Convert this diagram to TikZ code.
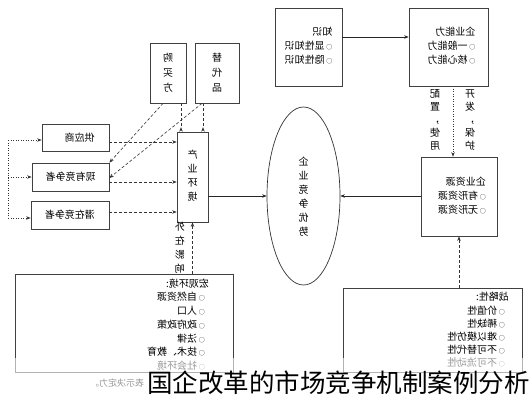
\documentclass[tikz,border=0pt]{standalone}
\usepackage{fontspec}
\setmainfont{Noto Sans CJK SC}
\usepackage{graphicx}
\usetikzlibrary{shapes.geometric,arrows.meta}
\newcommand{\mirtext}[1]{\reflectbox{#1}}
\newcommand{\vlines}[1]{\begin{tabular}{@{}c@{}}#1\end{tabular}}
\newcommand{\hlines}[1]{\begin{tabular}{@{}l@{}}#1\end{tabular}}
\newcommand{\bul}{{\fontsize{6}{6}\selectfont ○}\,}
\begin{document}
\begin{tikzpicture}[x=1pt,y=-1pt,
  box/.style={draw=black!75, line width=0.7pt, inner sep=0pt, align=center, font=\fontsize{10}{14}\selectfont},
  txt/.style={inner sep=0pt, font=\fontsize{10}{14}\selectfont},
  tip/.style={-{Stealth[length=4.5pt,width=3.5pt]}},
  rtip/.style={-{Stealth[length=4.5pt,width=3.5pt,reversed]}},
  dsh/.style={dash pattern=on 3pt off 2pt, line width=0.6pt, draw=black!80},
  dot/.style={dash pattern=on 1pt off 1.5pt, line width=0.8pt, draw=black!80},
  sol/.style={line width=0.6pt, draw=black!85}]
\useasboundingbox (0,0) rectangle (531,400);

% boxes
\node[box, minimum width=36pt, minimum height=60pt, font=\fontsize{10}{15}\selectfont] (buyer) at (168,73) {\mirtext{\vlines{购\\买\\方}}};
\node[box, minimum width=44pt, minimum height=60pt, font=\fontsize{10}{15}\selectfont] (sub) at (217,73) {\mirtext{\vlines{替\\代\\品}}};
\node[box, minimum width=67pt, minimum height=27pt] (sup) at (75.5,137.5) {\hspace{8pt}\mirtext{供应商}};
\node[box, minimum width=77pt, minimum height=28pt] (cur) at (70.5,177) {\mirtext{现有竞争者}};
\node[box, minimum width=78pt, minimum height=28pt] (pot) at (70,215) {\mirtext{潜在竞争者}};
\node[box, minimum width=31pt, minimum height=90pt] (ind) at (192.5,177) {\mirtext{\vlines{产\\业\\环\\境}}};
\node[draw=black!80, line width=0.7pt, ellipse, minimum width=73pt, minimum height=178pt, inner sep=0pt] (ell) at (303.5,196) {};
\node[txt] (elltext) at (303.5,198) {\mirtext{\vlines{企\\业\\竞\\争\\优\\势}}};
\node[box, minimum width=67pt, minimum height=78pt] (know) at (308.5,47) {\mirtext{\hlines{知识\\\bul 显性知识\\\bul 隐性知识}}};
\node[box, minimum width=79pt, minimum height=78pt] (abil) at (448.5,47) {\hspace{6pt}\mirtext{\hlines{企业能力\\\bul 一般能力\\\bul 核心能力}}};
\node[box, minimum width=76pt, minimum height=79pt] (res) at (459,196.5) {\hspace{6pt}\mirtext{\hlines{企业资源\\\bul 有形资源\\\bul 无形资源}}};
\node[box, minimum width=179pt, minimum height=84pt] (strat) at (432.5,330) {};
\node[box, minimum width=218pt, minimum height=98pt] (macro) at (124,323) {};

\node[txt, anchor=north east, font=\fontsize{10}{13.2}\selectfont] (strattext) at (509,291.5)
  {\mirtext{\hlines{战略性:\\\hspace{4pt}\bul 价值性\\\hspace{4pt}\bul 稀缺性\\\hspace{4pt}\bul 难以模仿性\\\hspace{4pt}\bul 不可替代性\\\hspace{4pt}\bul 不可流动性}}};
\node[txt, anchor=north east, font=\fontsize{10}{13.7}\selectfont] (macrotext) at (209,277.5)
  {\mirtext{\hlines{宏观环境:\\\hspace{4pt}\bul 自然资源\\\hspace{4pt}\bul 人口\\\hspace{4pt}\bul 政府政策\\\hspace{4pt}\bul 法律\\\hspace{4pt}\bul 技术、教育\\\hspace{4pt}\bul 社会环境}}};

% labels
\node[txt, font=\fontsize{10}{13}\selectfont] (lbl1) at (435,121) {\mirtext{\vlines{配\\置\\，\\使\\用}}};
\node[txt, font=\fontsize{10}{13}\selectfont] (lbl2) at (470,121) {\mirtext{\vlines{开\\发\\，\\保\\护}}};
\node[txt] (lbl3) at (180,249) {\mirtext{\vlines{外\\在\\影\\响}}};

% left dotted feed
\coordinate (dtop) at (8,140);
\coordinate (dbot) at (8,218);
\draw[dot] (dtop) -- (dbot);
\draw[dot, tip] (dtop) -- (dtop -| sup.west);
\draw[dot, tip] (8,177) coordinate (dmid) -- (dmid -| cur.west);
\draw[dot, tip] (dbot) -- (dbot -| pot.west);

% dashed into industry
\draw[dsh, tip] ([yshift=-4.5pt]sup.east) -- ([yshift=-4.5pt]sup.east -| ind.west);
\draw[dsh, tip] ([yshift=-5pt]cur.east) -- ([yshift=-5pt]cur.east -| ind.west);
\draw[dsh, tip] ([yshift=3pt]pot.east) -- ([yshift=3pt]pot.east -| ind.west);

% buyer / substitute
\draw[dsh, tip] ([xshift=-5pt]buyer.south) -- (cur.north east);
\draw[dsh, tip] ([xshift=-15pt]sub.south) -- ([yshift=-1pt]cur.east);
\draw[dsh, rtip] ([xshift=13pt]buyer.south) -- ([xshift=13pt]buyer.south |- ind.north);
\draw[dsh, rtip] ([xshift=-14pt]sub.south) -- ([xshift=-14pt]sub.south |- ind.north);

% macro to industry
\draw[dsh, tip] (ind.south |- macro.north) -- (ind.south);

% industry to ellipse
\draw[sol, tip] (ind.east |- ell.west) -- (ell.west);

% knowledge to ability
\draw[sol, tip] ([yshift=10pt]know.east) -- ([yshift=10pt]know.east -| abil.west);

% ability to resource
\draw[dot, tip, line width=0.6pt] ([xshift=4.5pt]abil.south) -- ([xshift=4.5pt]abil.south |- res.north);

% resource to ellipse
\draw[sol, tip] (res.west |- ell.east) -- (ell.east);

% strategy to resource
\draw[dsh, tip] (res.south |- strat.north) -- (res.south);

% bottom fade and caption
\fill[white, fill opacity=0.6] (0,358) rectangle (531,400);
\node[txt, text=black!40, font=\fontsize{9}{9}\selectfont] (note) at (117,383) {\mirtext{表示决定力。}};
\node[inner sep=0pt, anchor=west, font=\fontsize{25.5}{26}\selectfont] (caption) at (147,383) {国企改革的市场竞争机制案例分析};
\end{tikzpicture}
\end{document}
